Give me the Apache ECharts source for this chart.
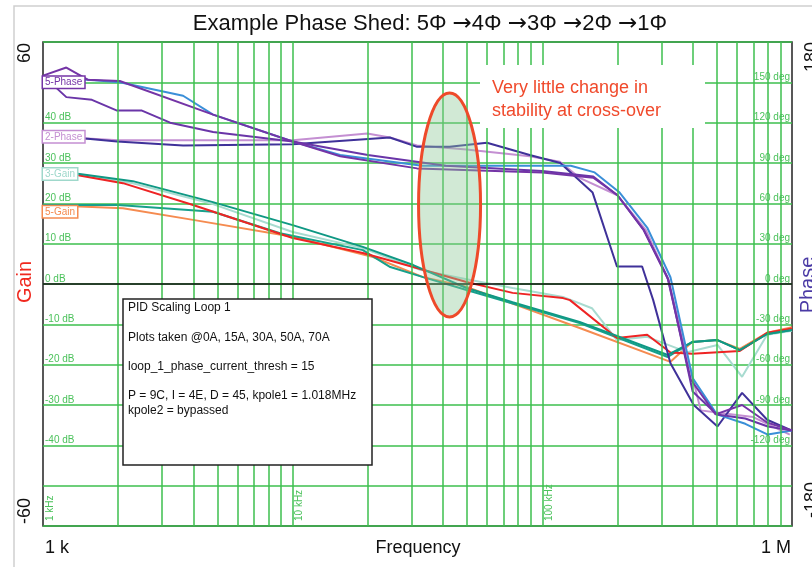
<!DOCTYPE html>
<html>
<head>
<meta charset="utf-8">
<script src="https://cdn.jsdelivr.net/npm/echarts@6/dist/echarts.min.js"></script>
<style>
  html, body { margin: 0; padding: 0; background: #fff; }
  #chart { width: 812px; height: 567px; }
</style>
</head>
<body>
<div id="chart"></div>
<script>
// vertical log grid (Hz) and decade labels
const gridFreqs = [2000, 3000, 4000, 5000, 6000, 7000, 8000, 9000, 10000,
  20000, 30000, 40000, 50000, 60000, 70000, 80000, 90000, 100000,
  200000, 300000, 400000, 500000, 600000, 700000, 800000, 900000];
const decadeTicks = [1000, 10000, 100000];
const decadeNames = ['1 kHz', '10 kHz', '100 kHz'];

// gain curves (dB)
const redFreq = [1000, 2090, 3990, 10000, 19100, 30400, 49700, 76000, 121000, 129000, 199000, 263000, 326000, 398000, 618000, 795000, 1000000];
const redGain = [28.5, 25, 19.6, 11.4, 7.7, 4.2, 0.5, -2.2, -3.5, -4, -13.4, -12.6, -17, -17.3, -16.6, -12.1, -11];

const tealFreq = [1000, 2290, 4790, 10000, 19100, 30400, 49700, 76000, 141000, 318000, 398000, 503000, 618000, 795000, 1000000];
const tealGain = [28.5, 25.5, 20.3, 14.6, 9.2, 4.7, -1, -4.5, -9.4, -17.6, -14.4, -13.9, -16.4, -12.4, -11.4];

const teal2Freq = [1000, 2000, 4790, 8900, 19100, 24600, 33300, 49700, 141000, 318000, 398000, 503000, 618000, 795000, 1000000];
const teal2Gain = [19.6, 19.6, 17.9, 12.6, 8.4, 4.2, 1.7, -1.5, -9.7, -18.1, -14.4, -13.9, -16.4, -12.4, -11.4];

const lightFreq = [1000, 2290, 4790, 10000, 19100, 32400, 49700, 76000, 121000, 158000, 199000, 263000, 380000, 503000, 631000, 795000, 1000000];
const lightGain = [28.5, 25, 19.8, 12.9, 8.9, 3.5, 1.2, -1, -3.2, -6, -13.9, -13.1, -16.9, -15.1, -23, -12.6, -11.6];

const orangeFreq = [1000, 2090, 3990, 10000, 21000, 33300, 49700, 141000, 326000, 398000, 503000, 618000, 795000, 1000000];
const orangeGain = [19.6, 18.8, 15.9, 11.7, 6.7, 1.7, -0.7, -10.9, -19.3, -14.4, -13.9, -16.1, -12.1, -10.7];

// phase curves (deg)
const purpleAFreq = [1000, 1240, 1510, 2030, 4800, 10000, 15500, 31500, 100000, 160000, 200000, 255000, 317000, 393000, 494000, 631000, 795000, 1000000];
const purpleAPhase = [155, 161, 152, 151, 126, 106, 95, 86, 83, 79, 66, 40, 5, -71, -97, -90, -103, -109];

const purpleBFreq = [1000, 1240, 1570, 1980, 2490, 3230, 4800, 10000, 20000, 41000, 100000, 160000, 200000, 255000, 320000, 400000, 500000, 650000, 800000, 1000000];
const purpleBPhase = [155, 139, 137, 129, 129, 120, 113, 106, 96, 88, 84, 80, 66, 40, 3, -80, -97, -100, -106, -109];

const blueFreq = [1000, 1510, 2030, 3640, 4800, 10000, 15500, 33000, 100000, 130000, 162000, 204000, 263000, 326000, 400000, 500000, 650000, 800000, 1000000];
const bluePhase = [152, 152, 150, 140, 126, 106, 96, 88, 88, 88, 83, 68, 42, 5, -70, -97, -104, -112, -109];

const indigoFreq = [1000, 1510, 1980, 3640, 10000, 24500, 31500, 42500, 60000, 89000, 118000, 159000, 199000, 251000, 278000, 326000, 404000, 503000, 631000, 795000, 1000000];
const indigoPhase = [110, 108, 106, 103, 104, 109, 102, 102, 105, 96, 90, 68, 13, 13, -12, -59, -90, -106, -81, -101, -109];

const pinkFreq = [1000, 2000, 10000, 19900, 24500, 31500, 49700, 89000, 117600, 141000, 200000, 260000, 320000, 431000, 517000, 699000, 980000];
const pinkPhase = [110, 107, 107, 112, 109, 103, 100, 95, 91, 79, 66, 40, 3, -94, -96, -99, -112];

// tags at the left edge: name, axis, value
const tagNames = ['5-Phase', '2-Phase', '3-Gain', '5-Gain'];
const tagAxis = [1, 1, 0, 0];
const tagValues = [150, 109.5, 27.3, 17.9];
const tagColors = ['#7434a6', '#c48fd2', '#9fd8cb', '#f58b50'];

const GREEN = '#3dbf4e';
const LABEL_GREEN = '#4cc25c';
const FONT = '"Liberation Sans", Arial, sans-serif';

function curve(name, f, v, color, axis) {
  return {
    name: name,
    type: 'line',
    yAxisIndex: axis,
    data: f.map((x, i) => [x, v[i]]),
    showSymbol: false,
    symbol: 'none',
    silent: true,
    z: 3,
    lineStyle: { color: color, width: 2 },
    itemStyle: { color: color }
  };
}

const chart = echarts.init(document.getElementById('chart'));

const option = {
  animation: false,
  backgroundColor: '#fff',
  textStyle: { fontFamily: FONT },
  grid: {
    left: 43, top: 42, right: 20, bottom: 41,
    show: true, borderColor: '#222', borderWidth: 1.5, backgroundColor: '#fff'
  },
  xAxis: {
    type: 'log', logBase: 10, min: 1000, max: 1000000,
    axisLine: { show: false }, axisTick: { show: false },
    axisLabel: { show: false }, splitLine: { show: false }
  },
  yAxis: [
    {
      type: 'value', min: -60, max: 60, interval: 10, position: 'left',
      axisLine: { show: false }, axisTick: { show: false },
      axisLabel: {
        inside: true, margin: 2, color: LABEL_GREEN, fontSize: 10, verticalAlign: 'bottom',
        formatter: v => (Math.abs(v) <= 40 ? v + ' dB' : '')
      },
      splitLine: { lineStyle: { color: GREEN, width: 1.5 } }
    },
    {
      type: 'value', min: -180, max: 180, interval: 30, position: 'right',
      axisLine: { show: false }, axisTick: { show: false },
      axisLabel: {
        inside: true, margin: 2, color: LABEL_GREEN, fontSize: 10, verticalAlign: 'bottom',
        formatter: v => (v >= -120 && v <= 150 ? v + ' deg' : '')
      },
      splitLine: { show: false }
    }
  ],
  series: [
    {
      type: 'line', data: [], silent: true, z: 1,
      markLine: {
        silent: true, symbol: 'none', animation: false,
        label: { show: false },
        lineStyle: { color: GREEN, width: 1.5, type: 'solid' },
        data: gridFreqs.map(f => ({ xAxis: f }))
          .concat([{ yAxis: 0, lineStyle: { color: '#111', width: 1.5, type: 'solid' } }])
      }
    },
    curve('5-Gain', orangeFreq, orangeGain, '#f58b50', 0),
    curve('3-Gain', lightFreq, lightGain, '#a8dbd0', 0),
    curve('Gain 4', teal2Freq, teal2Gain, '#17a08b', 0),
    curve('Gain 1', redFreq, redGain, '#ee2424', 0),
    curve('Gain 2', tealFreq, tealGain, '#0f9884', 0),
    curve('2-Phase', pinkFreq, pinkPhase, '#c48fd2', 1),
    curve('Phase 1', indigoFreq, indigoPhase, '#3f3199', 1),
    curve('Phase 3', blueFreq, bluePhase, '#3a8fd8', 1),
    curve('Phase 4', purpleBFreq, purpleBPhase, '#6a35a8', 1),
    curve('5-Phase', purpleAFreq, purpleAPhase, '#7434a6', 1)
  ]
};
chart.setOption(option);

function px(axis, x, y) {
  return chart.convertToPixel({ xAxisIndex: 0, yAxisIndex: axis }, [x, y]);
}

function txt(x, y, text, size, color, align, valign, rot, extra) {
  return Object.assign({
    type: 'text', x: x, y: y, rotation: rot || 0, z: 50, silent: true,
    style: {
      text: text, fill: color, fontSize: size, fontFamily: FONT,
      align: align, textAlign: align, verticalAlign: valign, textVerticalAlign: valign
    }
  }, extra || {});
}

const g = [];
// light outer frame
g.push({ type: 'polyline', z: 40, silent: true, shape: { points: [[14, 567], [14, 6], [812, 6]] },
  style: { stroke: '#cfcfcf', lineWidth: 1.5, fill: null } });

// title, arrows drawn in DejaVu Sans so they look larger
const title = txt(430, 24, '', 22, '#111', 'center', 'middle');
title.style.text = 'Example Phase Shed: 5\u03A6 {a|\u2192}4\u03A6 {a|\u2192}3\u03A6 {a|\u2192}2\u03A6 {a|\u2192}1\u03A6';
title.style.rich = { a: { fontFamily: 'DejaVu Sans', fontSize: 23, fill: '#111' } };
g.push(title);

const R = Math.PI / 2;
g.push(txt(25, 53, '60', 18, '#111', 'center', 'middle', R));
g.push(txt(25, 511, '-60', 18, '#111', 'center', 'middle', R));
g.push(txt(25, 282, 'Gain', 20, '#f0281e', 'center', 'middle', R));
g.push(txt(812, 57, '180', 18, '#111', 'center', 'middle', R));
g.push(txt(812, 500, '-180', 18, '#111', 'center', 'middle', R));
g.push(txt(808, 285, 'Phase', 20, '#4a3aa5', 'center', 'middle', R));

g.push(txt(45, 548, '1 k', 18, '#111', 'left', 'middle'));
g.push(txt(418, 548, 'Frequency', 18, '#111', 'center', 'middle'));
g.push(txt(791, 548, '1 M', 18, '#111', 'right', 'middle'));

// decade labels inside the plot, rotated
decadeTicks.forEach((f, i) => {
  const p = px(0, f, -60);
  g.push(txt(p[0] + 2, p[1] - 5, decadeNames[i], 10, LABEL_GREEN, 'left', 'top', R));
});

// series tags at left edge
tagNames.forEach((name, i) => {
  const p = px(tagAxis[i], 1000, tagValues[i]);
  g.push(txt(p[0], p[1], name, 10, tagColors[i], 'left', 'middle', 0, {
    style: {
      text: name, fill: tagColors[i], fontSize: 10, fontFamily: FONT,
      align: 'left', textAlign: 'left', verticalAlign: 'middle', textVerticalAlign: 'middle',
      backgroundColor: '#fff', borderColor: tagColors[i], borderWidth: 1.5, padding: [1, 2, 0, 2]
    }
  }));
});

// PID info box
g.push({ type: 'rect', z: 45, silent: true, shape: { x: 123, y: 299, width: 249, height: 166 },
  style: { fill: '#fff', stroke: '#222', lineWidth: 1.5 } });
g.push(txt(128, 300.7,
  'PID Scaling Loop 1\n\nPlots taken @0A, 15A, 30A, 50A, 70A\n\nloop_1_phase_current_thresh = 15\n\n' +
  'P = 9C, I = 4E, D = 45, kpole1 = 1.018MHz\nkpole2 = bypassed', 12, '#111', 'left', 'top', 0));
g[g.length - 1].style.lineHeight = 14.6;

// annotation
g.push({ type: 'rect', z: 45, silent: true, shape: { x: 480, y: 65, width: 225, height: 63 },
  style: { fill: '#fff' } });
g.push(txt(492, 76.5, 'Very little change in\nstability at cross-over', 18, '#f04a2c', 'left', 'top', 0));
g[g.length - 1].style.lineHeight = 23;

const c = px(0, 42500, 19.6);
g.push({ type: 'ellipse', z: 48, silent: true, shape: { cx: c[0], cy: c[1], rx: 31, ry: 112 },
  style: { fill: 'rgba(140,200,150,0.4)', stroke: '#ee4a2a', lineWidth: 3 } });

chart.setOption({ graphic: { elements: g } });
</script>
</body>
</html>
